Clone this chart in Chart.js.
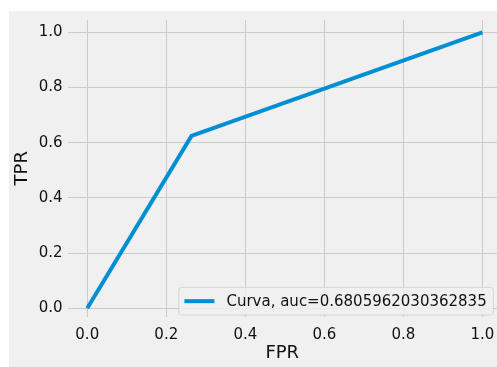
<!DOCTYPE html>
<html>
<head>
<meta charset="utf-8">
<script src="https://cdn.jsdelivr.net/npm/chart.js@4"></script>
<style>
  html, body { margin: 0; padding: 0; background: #ffffff; overflow: hidden; }
  #wrap { position: absolute; left: 9px; top: 11px; width: 488px; height: 356px; background: #f0f0f0; }
</style>
</head>
<body>
<div id="wrap"><canvas id="rocChart" width="488" height="356"></canvas></div>
<script>
// ROC curve values
const fpr = [0.0, 0.2638, 1.0];
const tpr = [0.0, 0.625, 1.0];
const seriesLabel = 'Curva, auc=0.6805962030362835';
const xTicks = [0.0, 0.2, 0.4, 0.6, 0.8, 1.0];
const yTicks = [0.0, 0.2, 0.4, 0.6, 0.8, 1.0];

const textColor = '#111111';
const gridColor = '#cbcbcb';
const lineColor = '#008fd5';

// draws the legend inside the plot, bottom right
const innerLegend = {
    id: 'innerLegend',
    afterDatasetsDraw(chart) {
        const ctx = chart.ctx;
        const area = chart.chartArea;
        const ds = chart.data.datasets[0];
        ctx.save();
        ctx.font = '15px "DejaVu Sans"';
        const textW = ctx.measureText(ds.label).width;
        const w = 5.6 + 30 + 12 + textW + 6.6;
        const h = 27.7;
        const right = area.right - 3.7;
        const bottom = area.bottom - 1.5;
        const left = right - w;
        const top = bottom - h;
        ctx.beginPath();
        ctx.roundRect(left, top, w, h, 3);
        ctx.fillStyle = 'rgba(240,240,240,0.85)';
        ctx.fill();
        ctx.strokeStyle = '#d4d4d4';
        ctx.lineWidth = 1;
        ctx.stroke();
        const cy = top + h / 2;
        ctx.beginPath();
        ctx.moveTo(left + 5.6, cy);
        ctx.lineTo(left + 35.6, cy);
        ctx.strokeStyle = ds.borderColor;
        ctx.lineWidth = 4;
        ctx.stroke();
        ctx.fillStyle = textColor;
        ctx.textBaseline = 'middle';
        ctx.textAlign = 'left';
        ctx.fillText(ds.label, left + 47.6, cy + 0.5);
        ctx.restore();
    }
};

function noPad(scale) {
    scale.paddingTop = 0;
    scale.paddingBottom = 0;
    scale.paddingLeft = 0;
    scale.paddingRight = 0;
}

const ctx = document.getElementById('rocChart');

const rocChart = new Chart(ctx, {
    type: 'line',
    data: {
        datasets: [{
            label: seriesLabel,
            data: fpr.map((x, i) => ({ x: x, y: tpr[i] })),
            borderColor: lineColor,
            borderWidth: 4,
            pointRadius: 0,
            tension: 0,
            fill: false
        }]
    },
    options: {
        responsive: false,
        animation: false,
        devicePixelRatio: 1,
        layout: { padding: { top: 9, right: 0, bottom: 0, left: 0 } },
        plugins: {
            legend: { display: false },
            tooltip: { enabled: false }
        },
        scales: {
            x: {
                type: 'linear',
                min: -0.05,
                max: 1.037,
                afterBuildTicks: (scale) => { scale.ticks = xTicks.map(v => ({ value: v })); },
                afterFit: (scale) => { scale.height = 50.5; noPad(scale); },
                grid: { color: gridColor, lineWidth: 1, drawTicks: false },
                border: { display: false },
                ticks: {
                    color: textColor,
                    font: { family: 'DejaVu Sans', size: 15 },
                    padding: 10,
                    maxRotation: 0,
                    callback: (v) => v.toFixed(1)
                },
                title: {
                    display: true,
                    text: 'FPR',
                    color: textColor,
                    font: { family: 'DejaVu Sans', size: 18 },
                    padding: { top: 0, bottom: 3 }
                }
            },
            y: {
                type: 'linear',
                min: -0.03,
                max: 1.045,
                afterBuildTicks: (scale) => { scale.ticks = yTicks.map(v => ({ value: v })); },
                afterFit: (scale) => { scale.width = 58.5; noPad(scale); },
                grid: { color: gridColor, lineWidth: 1, drawTicks: false },
                border: { display: false },
                ticks: {
                    color: textColor,
                    font: { family: 'DejaVu Sans', size: 15 },
                    padding: 5,
                    callback: (v) => v.toFixed(1)
                },
                title: {
                    display: true,
                    text: 'TPR',
                    color: textColor,
                    font: { family: 'DejaVu Sans', size: 18 },
                    padding: { top: 3, bottom: 0 }
                }
            }
        }
    },
    plugins: [innerLegend]
});
</script>
</body>
</html>
